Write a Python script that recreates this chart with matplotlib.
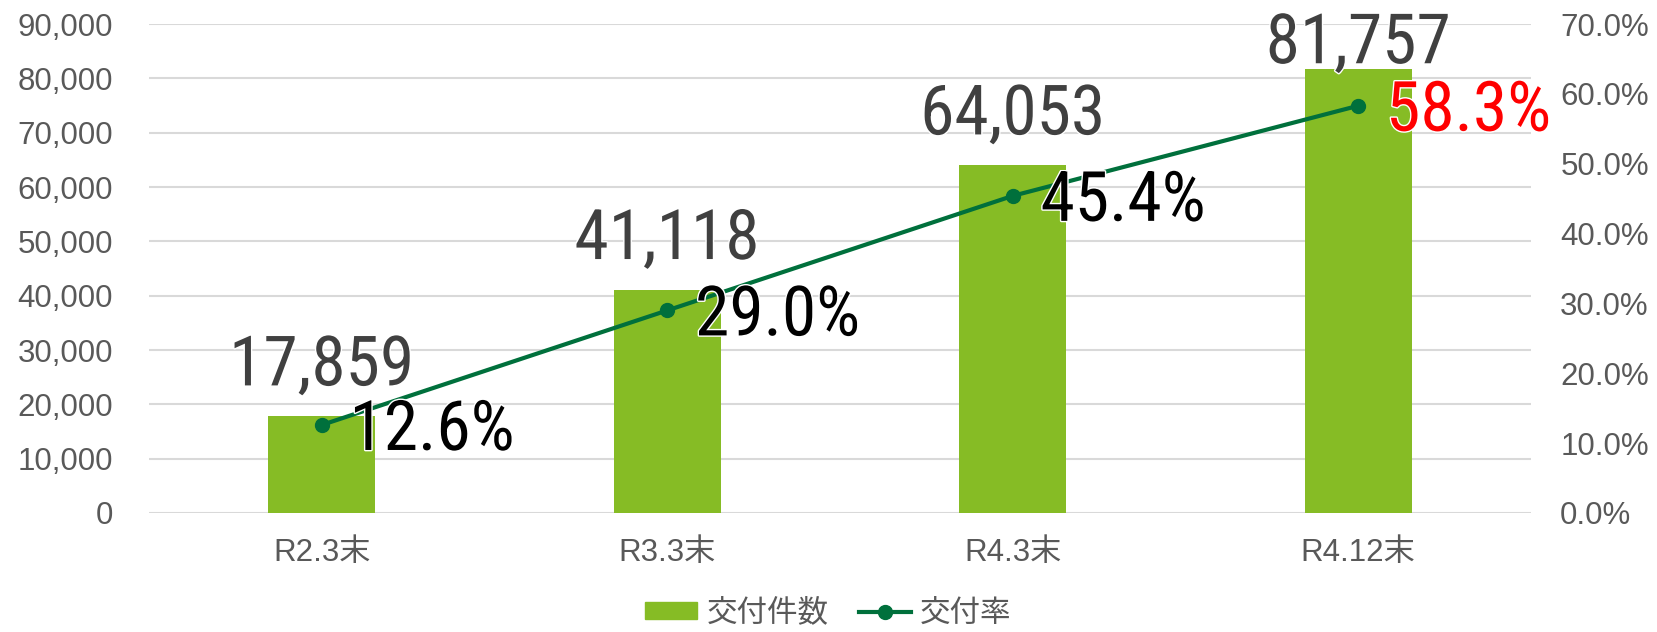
import matplotlib
matplotlib.use('Agg')
import matplotlib.pyplot as plt
import matplotlib.patheffects as pe
from matplotlib.ticker import FuncFormatter, FixedLocator
from matplotlib.lines import Line2D
from matplotlib.patches import Patch

categories = ['R2.3末', 'R3.3末', 'R4.3末', 'R4.12末']
counts = [17859, 41118, 64053, 81757]
rates = [12.6, 29.0, 45.4, 58.3]

bar_color = '#86BC25'
line_color = '#00703C'
tick_color = '#595959'
grid_color = '#D9D9D9'
base_font = ['Liberation Sans', 'Noto Sans CJK JP', 'DejaVu Sans']
label_font = ['Roboto Condensed', 'Archivo Narrow', 'DejaVu Sans']

plt.rcParams['font.family'] = base_font

fig = plt.figure(figsize=(16.57, 6.32), dpi=100)
ax = fig.add_axes([0.0899, 0.1883, 0.924 - 0.0899, 0.962 - 0.1883])
ax2 = ax.twinx()

x = list(range(len(categories)))
ax.bar(x, counts, width=0.31, color=bar_color, zorder=2)
ax.set_xlim(-0.5, len(categories) - 0.5)
ax.set_ylim(0, 90000)
ax.yaxis.set_major_locator(FixedLocator(range(0, 90001, 10000)))
ax.yaxis.set_major_formatter(FuncFormatter(lambda v, p: f'{int(v):,}'))
ax.grid(axis='y', color=grid_color, linewidth=1.5, zorder=0)
ax.set_axisbelow(True)
ax.set_xticks(x)
ax.set_xticklabels(categories)

ax2.plot(x, rates, color=line_color, linewidth=3, marker='o', markersize=10, zorder=3)
ax2.set_ylim(0, 70)
ax2.yaxis.set_major_locator(FixedLocator(range(0, 71, 10)))
ax2.yaxis.set_major_formatter(FuncFormatter(lambda v, p: f'{v:.1f}%'))

for a in (ax, ax2):
    for s in a.spines.values():
        s.set_visible(False)
    a.tick_params(length=0, labelsize=22.5, labelcolor=tick_color)
ax.tick_params(axis='y', pad=26)
ax.tick_params(axis='x', pad=18)
ax2.tick_params(axis='y', pad=21)

stroke = [pe.withStroke(linewidth=2, foreground='white')]
count_offsets = [22, 22, 22, 4]
for xi, c, off in zip(x, counts, count_offsets):
    y2 = c / 90000 * 70
    ax2.annotate(f'{c:,}', (xi, y2), xytext=(0, off), textcoords='offset points',
                 ha='center', va='baseline', fontsize=50, family=label_font,
                 color='#404040', path_effects=stroke, zorder=5)

for i, (xi, r) in enumerate(zip(x, rates)):
    col = 'red' if i == len(rates) - 1 else 'black'
    ax2.annotate(f'{r:.1f}%', (xi, r), xytext=(20, -18), textcoords='offset points',
                 ha='left', va='baseline', fontsize=50, family=label_font,
                 color=col, path_effects=stroke, zorder=5)

handles = [Patch(color=bar_color, label='交付件数'),
           Line2D([0], [0], color=line_color, linewidth=3, marker='o', markersize=10, label='交付率')]
fig.legend(handles=handles, loc='center', bbox_to_anchor=(0.5, 0.03), ncol=2, frameon=False,
           prop={'family': ['Noto Sans CJK JP'], 'size': 22}, labelcolor=tick_color,
           handlelength=1.7, handleheight=0.5, handletextpad=0.3, columnspacing=1.0,
           borderpad=0.2)

fig.savefig('out.png', dpi=100)
